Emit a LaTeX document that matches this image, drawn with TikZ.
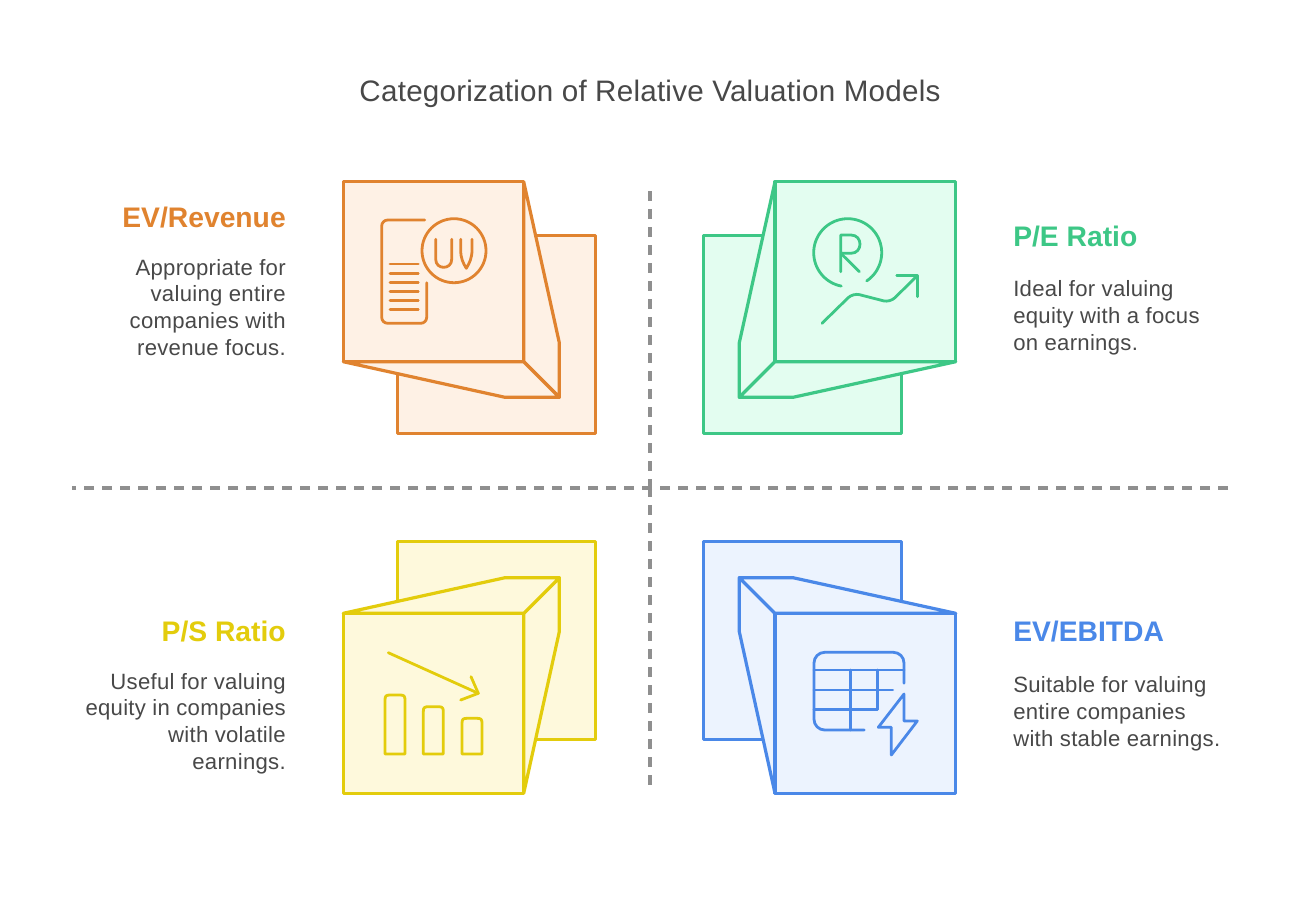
\documentclass[tikz,border=0pt]{standalone}
\usepackage{fontspec}
\setmainfont{Liberation Sans}
\newfontfamily\titlefont[LetterSpace=0.8]{Liberation Sans}
\newfontfamily\bodyfont[LetterSpace=1.3]{Liberation Sans}
\definecolor{orgL}{HTML}{E0832F}\definecolor{orgF}{HTML}{FEF1E5}
\definecolor{grnL}{HTML}{3DC786}\definecolor{grnF}{HTML}{E3FDF0}
\definecolor{yelL}{HTML}{E3CC0C}\definecolor{yelF}{HTML}{FEF9DC}
\definecolor{bluL}{HTML}{4A88E8}\definecolor{bluF}{HTML}{ECF3FE}
\definecolor{txt}{HTML}{484848}
\definecolor{dashc}{HTML}{8F8F8F}
\tikzset{
 frame/.style={line width=2.4pt,line join=round},
 icon/.style={line width=2.1pt,line cap=round,line join=round},
 sep/.style={draw=dashc,line width=2.4pt,dash pattern=on 7.5pt off 6pt},
 title/.style={text=txt,font=\titlefont\fontsize{22.2pt}{26pt}\selectfont,anchor=center,inner sep=0pt},
 head/.style={font=\bfseries\fontsize{21.2pt}{24pt}\selectfont,inner sep=0pt},
 body/.style={text=txt,font=\bodyfont\fontsize{16.6pt}{20pt}\selectfont,inner sep=0pt},
}
\begin{document}
\begin{tikzpicture}[x=.75pt,y=-.75pt]
\useasboundingbox (0,0) rectangle (1299,904);
\fill[white] (0,0) rectangle (1299,904);
% separators
\draw[sep] (650,191) -- (650,488);
\draw[sep] (650,487) -- (650,785);
\draw[sep] (1228,488) -- (72,488);
% title
\node[title] (t) at (650,94) {Categorization of Relative Valuation Models};
% orange
\begin{scope}[frame,draw=orgL,fill=orgF]
\filldraw (397.3,235.7) rectangle (595.7,433.3);
\filldraw (523.7,181.7) -- (559.3,342.7) -- (559.3,397.3) -- (523.7,361.7) -- cycle;
\filldraw (343.3,361.7) -- (505,397.3) -- (559.3,397.3) -- (523.7,361.7) -- cycle;
\filldraw (343.3,181.7) rectangle (523.7,361.7);
\end{scope}
\begin{scope}[icon,draw=orgL]
\draw[rounded corners=4.5pt] (424.7,220) -- (381.7,220) -- (381.7,323.3) -- (426.7,323.3) -- (426.7,282.7);
\foreach \y in {264,273.3,282.7,291.7,300.7,309.7} \draw (390,\y) -- (418.3,\y);
\draw (454,250.7) circle (24pt);
\draw (435.7,239.3) -- (435.7,259.3) .. controls (435.7,270) and (451.7,270) .. (451.7,259.3) -- (451.7,239.3);
\draw (460.7,239.3) -- (460.7,250) .. controls (460.7,258) and (463,263) .. (466.3,268.3) .. controls (469.5,263) and (472,258) .. (472,250) -- (472,239.3);
\end{scope}
% green
\begin{scope}[frame,draw=grnL,fill=grnF]
\filldraw (703.3,235.7) rectangle (901.7,433.3);
\filldraw (775,181.7) -- (739.3,342.7) -- (739.3,397.3) -- (775,361.7) -- cycle;
\filldraw (955.7,361.7) -- (793,397.3) -- (739.3,397.3) -- (775,361.7) -- cycle;
\filldraw (775,181.7) rectangle (955.7,361.7);
\end{scope}
\begin{scope}[icon,draw=grnL]
\draw plot[domain=101:416,samples=80,smooth] ({847.7+34*cos(\x)},{252.7+34*sin(\x)});
\draw (840.7,271.7) -- (840.7,235) -- (851,235) .. controls (863,235) and (863,253.3) .. (851,253.3) -- (840.7,253.3);
\draw (842,254.5) -- (859.3,271.7);
\draw[rounded corners=5pt] (822,323.3) -- (853,293) -- (890,302.5) -- (917.3,275.7);
\draw (896.7,275.7) -- (917.3,275.7) -- (917.3,296.7);
\end{scope}
% yellow
\begin{scope}[frame,draw=yelL,fill=yelF]
\filldraw (397.3,541.7) rectangle (595.7,739.3);
\filldraw (523.7,793.3) -- (559.3,631.7) -- (559.3,577.7) -- (523.7,613.3) -- cycle;
\filldraw (343.3,613.3) -- (505,577.7) -- (559.3,577.7) -- (523.7,613.3) -- cycle;
\filldraw (343.3,613.3) rectangle (523.7,793.3);
\end{scope}
\begin{scope}[icon,draw=yelL]
\draw (388.3,652.7) -- (478.3,693.3);
\draw (471,676.7) -- (478.3,693.3) -- (460.7,700);
\foreach \a/\b/\c in {385/405/695,423.3/443.3/706.7,462/482/718.3}
  \draw (\a,754) -- (\a,{\c+5}) .. controls (\a,{\c+1}) and ({\a+1},\c) .. ({\a+5},\c) -- ({\b-5},\c) .. controls ({\b-1},\c) and (\b,{\c+1}) .. (\b,{\c+5}) -- (\b,754) -- cycle;
\end{scope}
% blue
\begin{scope}[frame,draw=bluL,fill=bluF]
\filldraw (703.3,541.7) rectangle (901.7,739.3);
\filldraw (775,793.3) -- (739.3,631.7) -- (739.3,577.7) -- (775,613.3) -- cycle;
\filldraw (955.7,613.3) -- (793,577.7) -- (739.3,577.7) -- (775,613.3) -- cycle;
\filldraw (775,613.3) rectangle (955.7,793.3);
\end{scope}
\begin{scope}[icon,draw=bluL]
\draw[rounded corners=8pt] (904,683.3) -- (904,652.3) -- (814,652.3) -- (814,730) -- (864.3,730);
\draw (814,670) -- (904,670);
\draw (814,690) -- (892.7,690);
\draw (814,709.3) -- (877.3,709.3);
\draw (850.7,670) -- (850.7,730);
\draw (877.3,670) -- (877.3,709.3);
\draw (904,694) -- (904,721) -- (917.3,721) -- (891.3,755) -- (891.3,727.3) -- (878.3,727.3) -- cycle;
\end{scope}
% text
\node[head,text=orgL,anchor=base east] (h1) at (286,227.3) {EV/Revenue};
\node[body,align=right,anchor=base east] (b1) at (286,355) {Appropriate for\\valuing entire\\companies with\\revenue focus.};
\node[head,text=grnL,anchor=base west] (h2) at (1013,246) {P/E Ratio};
\node[body,align=left,anchor=base west] (b2) at (1013,350) {Ideal for valuing\\equity with a focus\\on earnings.};
\node[head,text=yelL,anchor=base east] (h3) at (286,641.5) {P/S Ratio};
\node[body,align=right,anchor=base east] (b3) at (286,769) {Useful for valuing\\equity in companies\\with volatile\\earnings.};
\node[head,text=bluL,anchor=base west] (h4) at (1013,641.5) {EV/EBITDA};
\node[body,align=left,anchor=base west] (b4) at (1013,746) {Suitable for valuing\\entire companies\\with stable earnings.};
\end{tikzpicture}
\end{document}
